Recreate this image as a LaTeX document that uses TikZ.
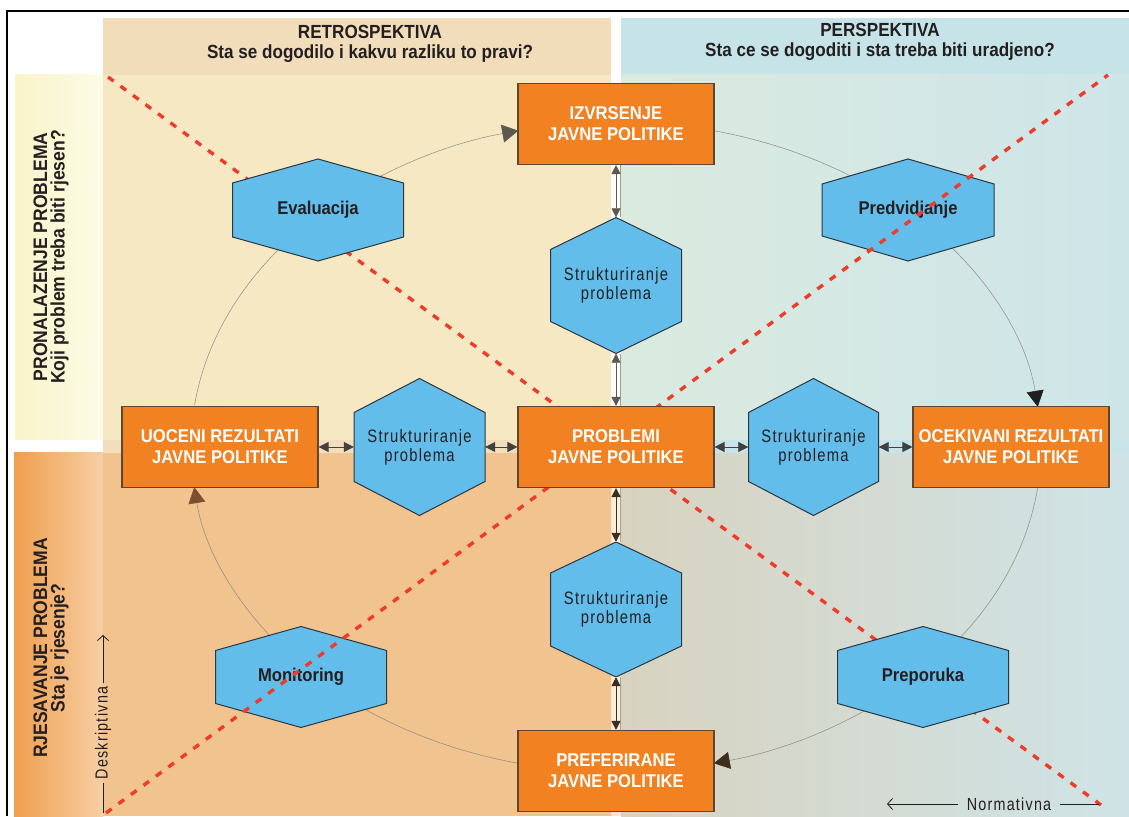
\documentclass[tikz,border=0pt]{standalone}
\usepackage{fontspec}
\setmainfont{Liberation Sans}
\newfontfamily\cf[FakeStretch=0.9]{Liberation Sans}
\newfontfamily\cfs[FakeStretch=0.82,LetterSpace=7]{Liberation Sans}
\usetikzlibrary{arrows.meta,calc}

\definecolor{boxor}{HTML}{F28121}
\definecolor{boxbd}{HTML}{5E4632}
\definecolor{hexfill}{HTML}{63BDEB}
\definecolor{hexbd}{HTML}{2B3640}
\definecolor{txt}{HTML}{231F20}
\definecolor{hdrL}{HTML}{F2DDBB}
\definecolor{hdrR}{HTML}{C6E4E8}
\definecolor{bandTa}{HTML}{F9F4C9}
\definecolor{bandTb}{HTML}{FCFBE6}
\definecolor{bandBa}{HTML}{EF9E4E}
\definecolor{bandBb}{HTML}{F7CFA5}
\definecolor{qTL}{HTML}{F5E8C3}
\definecolor{qTRa}{HTML}{DAEADF}
\definecolor{qTRb}{HTML}{CEE5E8}
\definecolor{qBL}{HTML}{F1C38F}
\definecolor{qBRa}{HTML}{D8D3C0}
\definecolor{qBRb}{HTML}{CFE3E6}
\definecolor{stripL}{HTML}{F2DEBD}
\definecolor{stripR}{HTML}{C8E4E8}
\definecolor{stripV}{HTML}{FBE4CC}
\definecolor{redd}{HTML}{EE3B2A}
\definecolor{circ}{HTML}{8A8A82}
\definecolor{arrA}{HTML}{5C5A4E}
\definecolor{arrB}{HTML}{1E1E1E}
\definecolor{arrC}{HTML}{3F2E1E}
\definecolor{arrD}{HTML}{7B5030}

\newcommand{\mkhex}[8]{%
  \filldraw[hexshape] ({#2-#4},{#3+#5-#6}) -- ({#2},{#3+#5}) -- ({#2+#4},{#3+#5-#6}) -- ({#2+#4},{#3-#5+#6}) -- ({#2},{#3-#5}) -- ({#2-#4},{#3-#5+#6}) -- cycle;
  \node[#7, minimum width={2*#4}, minimum height={2*#5}] (#1) at (#2,#3) {#8};}

\begin{document}
\begin{tikzpicture}[x=1pt,y=1pt,
  boxn/.style={draw=boxbd, line width=1.1pt, fill=boxor, minimum width=196pt, minimum height=81pt, inner sep=0pt, align=center, text=white, font={\cf\bfseries\fontsize{18.5}{21}\selectfont}},
  hexshape/.style={fill=hexfill, draw=hexbd, line width=1pt},
  hexb/.style={inner sep=0pt, align=center, text=txt, font={\cf\bfseries\fontsize{18.5}{21}\selectfont}},
  hexr/.style={inner sep=0pt, align=center, text=txt, font={\cfs\fontsize{18}{19}\selectfont}},
  hdr/.style={inner sep=0pt, align=center, text=txt, font={\cf\bfseries\fontsize{19}{20}\selectfont}},
  side/.style={inner sep=0pt, align=center, text=txt, rotate=90, font={\cf\bfseries\fontsize{19.5}{17.5}\selectfont}},
  note/.style={text=txt, font={\cfs\fontsize{17.5}{19}\selectfont}},
  reddash/.style={draw=redd, line width=3.4pt, dash pattern=on 7pt off 8.5pt},
  circline/.style={draw=circ, line width=0.5pt},
  harr/.style={draw=arrB!85, line width=0.8pt, {Triangle[length=10pt,width=10pt]}-{Triangle[length=10pt,width=10pt]}},
  varrT/.style={draw=arrA, line width=0.5pt, {Triangle[length=9pt,width=9pt]}-{Triangle[length=9pt,width=9pt]}},
  varrB/.style={draw=arrC, line width=0.5pt, {Triangle[length=9pt,width=9pt]}-{Triangle[length=9pt,width=9pt]}},
  notearrow/.style={draw=txt, line width=0.8pt, -{Straight Barb[length=5pt,width=11pt]}},
  noteline/.style={draw=txt, line width=0.8pt}
]
\useasboundingbox (0,0) rectangle (1129,816);
\fill[white] (0,0) rectangle (1129,816);
% header bands
\fill[hdrL] (103,741) rectangle (611,798);
\fill[hdrR] (621,741) rectangle (1129,798);
% left bands
\shade[left color=bandTa, right color=bandTb] (15,376) rectangle (103,741);
\shade[left color=bandBa, right color=bandBb] (14,0) rectangle (103,363);
% quadrants
\fill[qTL] (103,376) rectangle (611,741);
\shade[left color=qTRa, right color=qTRb] (621,376) rectangle (1129,741);
\fill[qBL] (103,0) rectangle (611,363);
\shade[left color=qBRa, right color=qBRb] (621,0) rectangle (1129,363);
\fill[stripL] (103,363) rectangle (611,376);
\fill[stripR] (621,363) rectangle (1129,376);
\fill[stripV] (611,0) rectangle (621,363);
% frame
\draw[line width=1.2pt] (7,0) -- (7,805) -- (1129,805);

% headings
\node[hdr] (hl) at (370,772) {RETROSPEKTIVA\\Sta se dogodilo i kakvu razliku to pravi?};
\node[hdr] (hr) at (880,774) {PERSPEKTIVA\\Sta ce se dogoditi i sta treba biti uradjeno?};
\node[side] (pl) at (51,559) {PRONALAZENJE PROBLEMA\\Koji problem treba biti rjesen?};
\node[side] (rl) at (51,168) {RJESAVANJE PROBLEMA\\Sta je rjesenje?};

% cycle (ellipse arcs)
\coordinate (ec) at (616,369);
\draw[circline, -{Triangle[length=16pt,width=18pt,color=arrA]}] ([shift={(133.8:425pt and 325pt)}]ec) arc[start angle=133.8, end angle=103.3, x radius=425pt, y radius=325pt];
\draw[circline] ([shift={(76.7:425pt and 325pt)}]ec) arc[start angle=76.7, end angle=46.7, x radius=425pt, y radius=325pt];
\draw[circline, -{Triangle[length=16pt,width=17pt,color=arrB]}] ([shift={(46.7:425pt and 325pt)}]ec) arc[start angle=46.7, end angle=7.1, x radius=425pt, y radius=325pt];
\draw[circline] ([shift={(-7.1:425pt and 325pt)}]ec) arc[start angle=-7.1, end angle=-44.4, x radius=425pt, y radius=325pt];
\draw[circline, -{Triangle[length=16pt,width=17pt,color=arrC]}] ([shift={(-44.4:425pt and 325pt)}]ec) arc[start angle=-44.4, end angle=-76.7, x radius=425pt, y radius=325pt];
\draw[circline] ([shift={(-103.3:425pt and 325pt)}]ec) arc[start angle=-103.3, end angle=-136.3, x radius=425pt, y radius=325pt];
\draw[circline, -{Triangle[length=16pt,width=17pt,color=arrD]}] ([shift={(-136.3:425pt and 325pt)}]ec) arc[start angle=-136.3, end angle=-172.9, x radius=425pt, y radius=325pt];
\draw[circline] ([shift={(172.6:425pt and 325pt)}]ec) arc[start angle=172.6, end angle=133.8, x radius=425pt, y radius=325pt];

% red diagonal A (behind hexagons)
\coordinate (rA1) at (108,739);
\coordinate (rA2) at (1101,11);
\draw[reddash] (rA1) -- (rA2);

% hexagons
\mkhex{eval}{318}{606}{85.5}{51}{24}{hexb}{Evaluacija}
\mkhex{pred}{908}{606}{86}{51}{25}{hexb}{Predvidjanje}
\mkhex{mon}{301}{139}{85.5}{50.5}{24}{hexb}{Monitoring}
\mkhex{prep}{923}{139}{85.5}{50.5}{24}{hexb}{Preporuka}
\mkhex{sa}{616}{530.5}{65.5}{68}{32}{hexr}{Strukturiranje\\problema}
\mkhex{sb}{616}{206.5}{65.5}{67.5}{31}{hexr}{Strukturiranje\\problema}
\mkhex{sc}{419.5}{369}{65.5}{68.5}{34}{hexr}{Strukturiranje\\problema}
\mkhex{sd}{813.5}{369}{65}{68.5}{34}{hexr}{Strukturiranje\\problema}

% red diagonal B (over hexagons)
\coordinate (rB1) at (106,3);
\coordinate (rB2) at (1108,741);
\draw[reddash] (rB1) -- (rB2);

% boxes
\node[boxn] (izv) at (616,692) {IZVRSENJE\\JAVNE POLITIKE};
\node[boxn] (prob) at (616,369) {PROBLEMI\\JAVNE POLITIKE};
\node[boxn] (uoc) at (220,369) {UOCENI REZULTATI\\JAVNE POLITIKE};
\node[boxn] (oce) at (1011,369) {OCEKIVANI REZULTATI\\JAVNE POLITIKE};
\node[boxn] (pref) at (616,45) {PREFERIRANE\\JAVNE POLITIKE};

% horizontal links
\draw[harr] (uoc.east) -- (sc.west);
\draw[harr] (sc.east) -- (prob.west);
\draw[harr] (prob.east) -- (sd.west);
\draw[harr] (sd.east) -- (oce.west);

% vertical links
\foreach \a/\b in {izv/sa, sa/prob} {
  \draw[line width=9pt, draw=arrA!60] (\a.south) -- (\b.north);
  \draw[line width=7.4pt, draw=white] (\a.south) -- (\b.north);
  \draw[varrT] (\a.south) -- (\b.north);
}
\foreach \a/\b in {prob/sb, sb/pref} {
  \draw[line width=9pt, draw=arrC!45] (\a.south) -- (\b.north);
  \draw[line width=7.4pt, draw=stripV!60] (\a.south) -- (\b.north);
  \draw[varrB] (\a.south) -- (\b.north);
}

% axis notes
\node[note, rotate=90, inner sep=4pt] (desk) at (103,83) {Deskriptivna};
\coordinate (deskTop) at (103,181);
\coordinate (deskBot) at (103,3);
\draw[notearrow] (desk.east) -- (deskTop);
\draw[noteline] (desk.west) -- (deskBot);

\node[note, inner sep=9pt] (norm) at (1009,12) {Normativna};
\coordinate (normL) at (887,12);
\coordinate (normR) at (1099,12);
\draw[notearrow] (norm.west) -- (normL);
\draw[noteline] (norm.east) -- (normR);
\end{tikzpicture}
\end{document}
